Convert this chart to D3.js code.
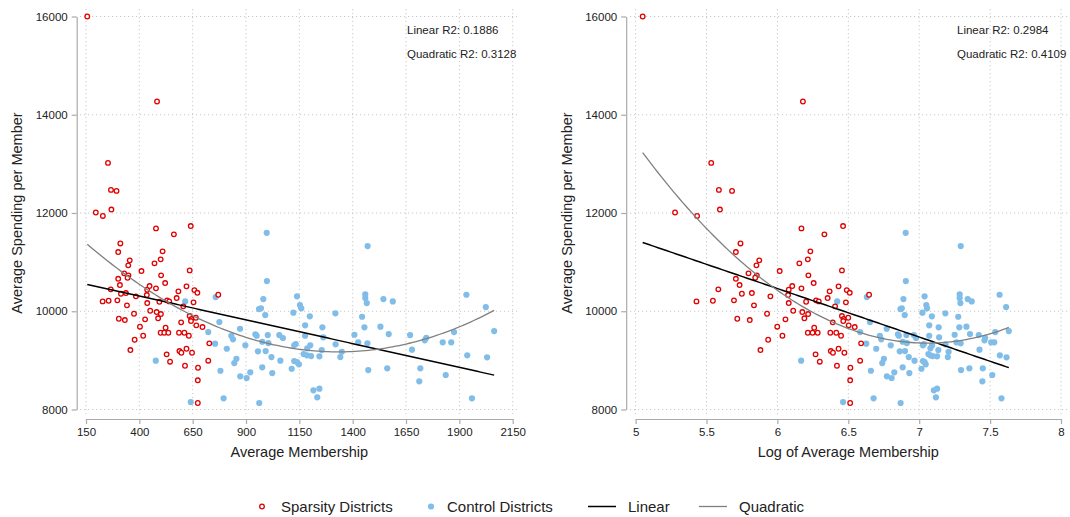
<!DOCTYPE html>
<html>
<head>
<meta charset="utf-8">
<script src="https://cdn.jsdelivr.net/npm/d3@7"></script>
<style>
  body { margin: 0; background: #fff; }
  text { font-family: "Liberation Sans", Arial, sans-serif; fill: #222; }
</style>
</head>
<body>
<svg id="chart" width="1070" height="517"></svg>
<script>
// Sparsity districts: average membership / average spending per member
const sparsityMembership = [
  156, 483, 253, 267, 293, 196, 229, 269, 311, 301, 355, 348, 410, 329, 349, 345,
  301, 309, 266, 437, 314, 337, 384, 435, 228, 256, 297, 437, 342, 375, 304, 332,
  427, 403, 418, 378, 358, 478, 641, 562, 509, 500, 471, 636, 502, 521, 448, 478,
  621, 658, 672, 583, 770, 575, 530, 540, 494, 654, 606, 451, 481, 501, 488, 636,
  644, 665, 642, 596, 667, 696, 523, 500, 517, 536, 586, 611, 632, 728, 621, 588,
  597, 647, 528, 544, 723, 614, 675, 674, 674
];
const sparsitySpending = [
  16000, 14270, 13020, 12470, 12450, 12010, 11940, 12070, 11380, 11205, 11036, 10934, 10818, 10771, 10731, 10682,
  10661, 10533, 10446, 10438, 10356, 10370, 10303, 10330, 10201, 10214, 10222, 10167, 10120, 9949, 9847, 9821,
  9835, 9685, 9501, 9420, 9210, 11687, 11734, 11565, 11219, 11056, 10975, 10832, 10731, 10574, 10513, 10466,
  10507, 10431, 10376, 10405, 10336, 10269, 10222, 10201, 10193, 10181, 10100, 10010, 9984, 9943, 9856, 9902,
  9841, 9868, 9801, 9774, 9713, 9678, 9664, 9562, 9562, 9562, 9562, 9562, 9501, 9347, 9237, 9190,
  9155, 9155, 9123, 8973, 8993, 8891, 8850, 8594, 8132
];

// Control districts
const controlMembership = [
  615, 477, 641, 997, 998, 758, 981, 1139, 1153, 1159, 961, 970, 990, 1122, 1199, 1319,
  775, 723, 872, 1177, 1258, 1408, 831, 839, 944, 950, 1002, 1056, 1073, 1177, 1262, 755,
  897, 976, 1005, 1126, 1133, 1201, 1320, 810, 956, 992, 1187, 1255, 1349, 1170, 1186, 1205,
  1244, 1342, 1019, 855, 845, 1061, 1126, 1139, 1148, 976, 1114, 780, 920, 1023, 873, 903,
  1216, 1244, 1234, 795, 962,
  1470, 1459, 1459, 1466, 1544, 1588, 1933, 2024, 1444, 1455, 1530, 1569, 2063, 1426, 1469, 1669,
  1745, 1738, 1875, 1822, 1862, 1678, 1937, 2030, 1473, 1562, 1717, 1836, 1712, 1959
];
const controlSpending = [
  10201, 8993, 8152, 11597, 10615, 10289, 10248, 10303, 10126, 10059, 10045, 10059, 9923, 9970, 9896, 9957,
  9780, 9577, 9644, 9713, 9672, 9522, 9501, 9428, 9530, 9501, 9516, 9516, 9455, 9501, 9469, 9339,
  9306, 9379, 9353, 9306, 9333, 9306, 9326, 9237, 9184, 9190, 9245, 9210, 9176, 9129, 9103, 9088,
  9082, 9068, 9068, 9033, 8946, 8993, 8987, 8966, 8919, 8858, 8830, 8789, 8757, 8742, 8675, 8641,
  8390, 8423, 8248, 8228, 8132,
  11327, 10344, 10269, 10167, 10248, 10201, 10336, 10085, 9888, 9672, 9685, 9536, 9597, 9367, 9347, 9516,
  9461, 9408, 9577, 9367, 9367, 9217, 9103, 9062, 8803, 8838, 8838, 8702, 8573, 8228
];

const membershipTicks = [150, 400, 650, 900, 1150, 1400, 1650, 1900, 2150];
const logTicks = [5, 5.5, 6, 6.5, 7, 7.5, 8];
const spendingTicks = [8000, 10000, 12000, 14000, 16000];
const r2Left = ["Linear R2: 0.1886", "Quadratic R2: 0.3128"];
const r2Right = ["Linear R2: 0.2984", "Quadratic R2: 0.4109"];
const legendItems = ["Sparsity Districts", "Control Districts", "Linear", "Quadratic"];

const RED = "#e00000", BLUE = "#80bde8", GRID = "#c8c8c8", AXIS = "#aaaaaa";

const svg = d3.select("#chart");

// least squares polynomial fit (centered x)
function polyfit(xs, ys, deg) {
  const xm = d3.mean(xs);
  const n = deg + 1;
  const A = d3.range(n).map(() => new Array(n).fill(0));
  const b = new Array(n).fill(0);
  xs.forEach((x0, k) => {
    const x = x0 - xm;
    for (let i = 0; i < n; i++) {
      b[i] += ys[k] * Math.pow(x, i);
      for (let j = 0; j < n; j++) A[i][j] += Math.pow(x, i + j);
    }
  });
  for (let i = 0; i < n; i++) {
    for (let r = i + 1; r < n; r++) {
      const f = A[r][i] / A[i][i];
      for (let c = i; c < n; c++) A[r][c] -= f * A[i][c];
      b[r] -= f * b[i];
    }
  }
  const coef = new Array(n).fill(0);
  for (let i = n - 1; i >= 0; i--) {
    let s = b[i];
    for (let c = i + 1; c < n; c++) s -= A[i][c] * coef[c];
    coef[i] = s / A[i][i];
  }
  return x => coef.reduce((acc, c, i) => acc + c * Math.pow(x - xm, i), 0);
}

const y = d3.scaleLinear().domain([8000, 16000]).range([409.5, 16.5]);

const panels = [
  {
    fx: d => d,
    x: d3.scaleLinear().domain([150, 2150]).range([86, 512.7]),
    ticks: membershipTicks,
    axisX: 76.7, plot: [80, 517],
    title: "Average Membership", ytitleX: 17, r2: r2Left, r2X: 407
  },
  {
    fx: d => Math.log(d),
    x: d3.scaleLinear().domain([5, 8]).range([635.6, 1061]),
    ticks: logTicks,
    axisX: 626.2, plot: [630, 1068],
    title: "Log of Average Membership", ytitleX: 567, r2: r2Right, r2X: 957
  }
];

const allM = sparsityMembership.concat(controlMembership);
const allS = sparsitySpending.concat(controlSpending);

panels.forEach(p => {
  const g = svg.append("g");

  // grid
  g.append("g").selectAll("line").data(spendingTicks).enter().append("line")
    .attr("x1", p.plot[0]).attr("x2", p.plot[1])
    .attr("y1", d => y(d)).attr("y2", d => y(d))
    .attr("stroke", GRID).attr("stroke-dasharray", "1.2,2.8");
  g.append("g").selectAll("line").data(p.ticks).enter().append("line")
    .attr("x1", d => p.x(d)).attr("x2", d => p.x(d))
    .attr("y1", 9).attr("y2", 416)
    .attr("stroke", GRID).attr("stroke-dasharray", "1.2,2.8");

  // axes
  const ya = g.append("g").attr("transform", `translate(${p.axisX},0)`)
    .call(d3.axisLeft(y).tickValues(spendingTicks).tickFormat(d3.format("d"))
      .tickSize(5).tickPadding(4).tickSizeOuter(0));
  const xa = g.append("g").attr("transform", "translate(0,419)")
    .call(d3.axisBottom(p.x).tickValues(p.ticks).tickFormat(d3.format(""))
      .tickSize(5).tickPadding(4).tickSizeOuter(0));
  [ya, xa].forEach(a => {
    a.select(".domain").attr("stroke", AXIS).attr("stroke-width", 1.2);
    a.selectAll(".tick line").attr("stroke", AXIS).attr("stroke-width", 1.2);
    a.selectAll(".tick text").attr("font-size", 11.5).attr("fill", "#222")
      .attr("font-family", '"Liberation Sans", Arial, sans-serif');
  });

  // titles
  g.append("text").attr("x", (p.x.range()[0] + p.x.range()[1]) / 2).attr("y", 457)
    .attr("text-anchor", "middle").attr("font-size", 14.5).text(p.title);
  g.append("text").attr("transform", `translate(${p.ytitleX + 5},213) rotate(-90)`)
    .attr("text-anchor", "middle").attr("font-size", 14.5).text("Average Spending per Member");

  // R2 annotations
  g.selectAll(".r2").data(p.r2).enter().append("text")
    .attr("x", p.r2X).attr("y", (d, i) => 34 + i * 23.7)
    .attr("font-size", 11.5).text(d => d);

  // points
  g.append("g").selectAll("circle").data(controlMembership).enter().append("circle")
    .attr("cx", d => p.x(p.fx(d))).attr("cy", (d, i) => y(controlSpending[i]))
    .attr("r", 3.1).attr("fill", BLUE);
  g.append("g").selectAll("circle").data(sparsityMembership).enter().append("circle")
    .attr("cx", d => p.x(p.fx(d))).attr("cy", (d, i) => y(sparsitySpending[i]))
    .attr("r", 2.3).attr("fill", "#fff").attr("stroke", RED).attr("stroke-width", 1.3);

  // fits
  const xs = allM.map(p.fx);
  const [x0, x1] = d3.extent(xs);
  const grid = d3.range(0, 121).map(i => x0 + (x1 - x0) * i / 120);
  const line = d3.line().x(d => p.x(d[0])).y(d => y(d[1]));
  const lin = polyfit(xs, allS, 1), quad = polyfit(xs, allS, 2);
  g.append("path").datum(grid.map(v => [v, lin(v)])).attr("d", line)
    .attr("fill", "none").attr("stroke", "#000").attr("stroke-width", 1.5);
  g.append("path").datum(grid.map(v => [v, quad(v)])).attr("d", line)
    .attr("fill", "none").attr("stroke", "#808080").attr("stroke-width", 1.3);
});

// legend
const lg = svg.append("g").attr("font-size", 15);
lg.append("circle").attr("cx", 262).attr("cy", 506.5).attr("r", 2.3)
  .attr("fill", "#fff").attr("stroke", RED).attr("stroke-width", 1.3);
lg.append("text").attr("x", 281).attr("y", 512).text(legendItems[0]);
lg.append("circle").attr("cx", 431).attr("cy", 506.5).attr("r", 3.1).attr("fill", BLUE);
lg.append("text").attr("x", 447).attr("y", 512).text(legendItems[1]);
lg.append("line").attr("x1", 588).attr("x2", 616).attr("y1", 506.5).attr("y2", 506.5)
  .attr("stroke", "#000").attr("stroke-width", 1.5);
lg.append("text").attr("x", 628).attr("y", 512).text(legendItems[2]);
lg.append("line").attr("x1", 699).attr("x2", 727).attr("y1", 506.5).attr("y2", 506.5)
  .attr("stroke", "#808080").attr("stroke-width", 1.3);
lg.append("text").attr("x", 739).attr("y", 512).text(legendItems[3]);
</script>
</body>
</html>
